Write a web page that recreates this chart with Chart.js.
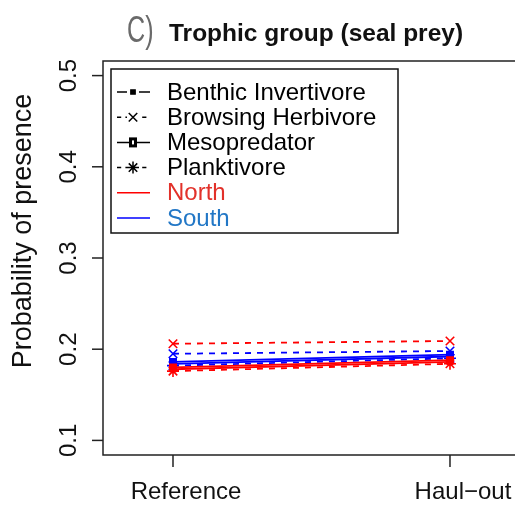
<!DOCTYPE html>
<html>
<head>
<meta charset="utf-8">
<script src="https://cdn.jsdelivr.net/npm/chart.js@4/dist/chart.umd.min.js"></script>
<style>
  html, body { margin: 0; padding: 0; background: #fff; overflow: hidden; }
  #trophicChart { display: block; }
</style>
</head>
<body>
<canvas id="trophicChart" width="515" height="509"></canvas>
<script>
// sites on the x axis (1 = Reference, 2 = Haul-out)
const sites = ['Reference', 'Haul\u2212out'];
const siteX = [1, 2];
const yTicks = [0.1, 0.2, 0.3, 0.4, 0.5];

const groups = ['Benthic Invertivore', 'Browsing Herbivore', 'Mesopredator', 'Planktivore'];
const regions = ['North', 'South'];

// probability of presence at Reference / Haul-out
const northBenthic = [0.178, 0.186];
const northBrowsing = [0.206, 0.209];
const northMeso = [0.180, 0.188];
const northPlankt = [0.176, 0.184];
const southBenthic = [0.184, 0.192];
const southBrowsing = [0.195, 0.198];
const southMeso = [0.186, 0.194];
const southPlankt = [0.182, 0.190];

const FONT = "'Liberation Sans', Arial, Helvetica, sans-serif";
const lineCol = { North: '#ff0000', South: '#0000ff' };
const textCol = { North: '#e2312a', South: '#2277c6' };

const groupStyle = {
    'Benthic Invertivore': { dash: [], point: 'rect', r: 3.5 },
    'Browsing Herbivore': { dash: [6, 6], point: 'crossRot', r: 6 },
    'Mesopredator': { dash: [], point: 'rect', r: 4.5 },
    'Planktivore': { dash: [6, 6], point: 'star', r: 6 }
};

const seriesValues = {
    North: [northBenthic, northBrowsing, northMeso, northPlankt],
    South: [southBenthic, southBrowsing, southMeso, southPlankt]
};

const datasets = [];
regions.forEach(reg => {
    groups.forEach((g, i) => {
        const st = groupStyle[g];
        datasets.push({
            label: reg + ' ' + g,
            data: siteX.map((x, k) => ({ x: x, y: seriesValues[reg][i][k] })),
            borderColor: lineCol[reg],
            backgroundColor: lineCol[reg],
            borderWidth: 1.8,
            borderDash: st.dash,
            pointStyle: st.point,
            pointRadius: st.r,
            pointBorderWidth: 1.6,
            tension: 0
        });
    });
});

// box (right side runs off the page), ticks, labels, title and legend
const frame = {
    id: 'frame',
    afterDraw(chart) {
        const ctx = chart.ctx;
        const a = chart.chartArea;
        const xs = chart.scales.x, ys = chart.scales.y;
        ctx.save();
        ctx.strokeStyle = '#222';
        ctx.lineWidth = 1.5;
        ctx.setLineDash([]);
        ctx.beginPath();
        ctx.moveTo(a.right + 5, a.top);
        ctx.lineTo(a.left, a.top);
        ctx.lineTo(a.left, a.bottom);
        ctx.lineTo(a.right + 5, a.bottom);
        ctx.stroke();

        // y ticks, rotated labels
        ctx.fillStyle = '#111';
        ctx.font = '24px ' + FONT;
        yTicks.forEach(v => {
            const y = ys.getPixelForValue(v);
            ctx.beginPath();
            ctx.moveTo(a.left - 11, y);
            ctx.lineTo(a.left, y);
            ctx.stroke();
            ctx.save();
            ctx.translate(a.left - 27, y);
            ctx.rotate(-Math.PI / 2);
            ctx.textAlign = 'center';
            ctx.textBaseline = 'alphabetic';
            ctx.fillText(v.toFixed(1), 0, 0);
            ctx.restore();
        });

        // x ticks
        siteX.forEach((v, i) => {
            const x = xs.getPixelForValue(v);
            ctx.beginPath();
            ctx.moveTo(x, a.bottom);
            ctx.lineTo(x, a.bottom + 12);
            ctx.stroke();
            ctx.textAlign = 'center';
            ctx.textBaseline = 'alphabetic';
            ctx.fillText(sites[i], x + 13, 499);
        });

        // y axis title
        ctx.save();
        ctx.translate(31, 231);
        ctx.rotate(-Math.PI / 2);
        ctx.textAlign = 'center';
        ctx.font = '27px ' + FONT;
        ctx.fillText('Probability of presence', 0, 0);
        ctx.restore();

        // panel title, the letter in a thin narrow face
        ctx.textAlign = 'left';
        ctx.font = 'bold 24.5px ' + FONT;
        ctx.fillText('Trophic group (seal prey)', 169, 41);
        ctx.save();
        ctx.translate(127, 42);
        ctx.scale(0.68, 1);
        ctx.font = '37px ' + FONT;
        ctx.fillStyle = '#6a6a6a';
        ctx.fillText('C)', 0, 0);
        ctx.restore();

        // legend
        const lx = 111, ly = 69, lw = 287, lh = 164;
        ctx.lineWidth = 1.5;
        ctx.strokeStyle = '#111';
        ctx.strokeRect(lx, ly, lw, lh);
        ctx.font = '24px ' + FONT;
        ctx.textBaseline = 'middle';
        const rows = groups.map(g => ({ text: g, color: '#000', style: groupStyle[g] }))
            .concat(regions.map(r => ({ text: r, color: textCol[r], line: lineCol[r] })));
        rows.forEach((row, i) => {
            const y = 92 + i * 25.2;
            ctx.strokeStyle = row.line || '#000';
            ctx.lineWidth = 1.5;
            ctx.setLineDash(row.style ? row.style.dash.map(d => d * 0.7) : []);
            ctx.beginPath();
            ctx.moveTo(117, y);
            ctx.lineTo(150, y);
            ctx.stroke();
            ctx.setLineDash([]);
            if (row.style) {
                ctx.fillStyle = '#000';
                if (row.text === 'Mesopredator') {
                    ctx.fillRect(129, y - 5, 8, 10);
                    ctx.fillStyle = '#fff';
                    ctx.fillRect(132, y - 2, 2, 4);
                } else {
                    ctx.fillStyle = '#fff';
                    ctx.fillRect(127, y - 6, 12, 12);
                    ctx.fillStyle = '#000';
                    Chart.helpers.drawPoint(ctx, {
                        pointStyle: row.style.point,
                        radius: row.style.point === 'rect' ? 3 : 6,
                        rotation: 0,
                        borderWidth: 1.3
                    }, 133, y);
                }
            }
            ctx.fillStyle = row.color;
            ctx.textAlign = 'left';
            ctx.fillText(row.text, 167, y + 1);
        });
        ctx.restore();
    }
};

new Chart(document.getElementById('trophicChart'), {
    type: 'line',
    data: { datasets: datasets },
    options: {
        responsive: false,
        animation: false,
        layout: { autoPadding: false, padding: { left: 103, right: 0, top: 61, bottom: 54 } },
        plugins: { legend: { display: false }, tooltip: { enabled: false } },
        scales: {
            x: { type: 'linear', min: 0.7473, max: 2.2347, display: false },
            y: { type: 'linear', min: 0.084, max: 0.516, display: false }
        }
    },
    plugins: [frame]
});
</script>
</body>
</html>
